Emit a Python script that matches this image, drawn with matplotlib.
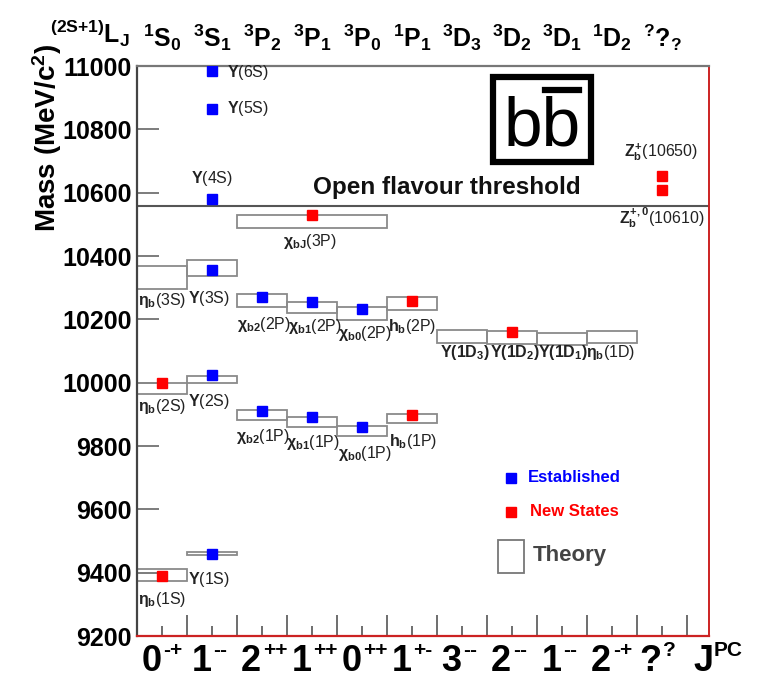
import matplotlib
matplotlib.use("Agg")
import matplotlib.pyplot as plt
from matplotlib.patches import Rectangle
from matplotlib.lines import Line2D
from matplotlib.transforms import blended_transform_factory, offset_copy

plt.rcParams['font.family'] = ['Liberation Sans', 'DejaVu Sans']
plt.rcParams['mathtext.fontset'] = 'custom'
plt.rcParams['mathtext.rm'] = 'Liberation Sans:bold'
plt.rcParams['mathtext.it'] = 'Liberation Sans:bold'
plt.rcParams['mathtext.bf'] = 'Liberation Sans:bold'
plt.rcParams['mathtext.sf'] = 'Liberation Sans:bold'

# ---------------- data ----------------
jpc_base = ['0', '1', '2', '1', '0', '1', '3', '2', '1', '2', '?']
jpc_sup = ['-+', '--', '++', '++', '++', '+-', '--', '--', '--', '-+', '?']
term_labels = ['$^{1}S_{0}$', '$^{3}S_{1}$', '$^{3}P_{2}$', '$^{3}P_{1}$', '$^{3}P_{0}$',
               '$^{1}P_{1}$', '$^{3}D_{3}$', '$^{3}D_{2}$', '$^{3}D_{1}$', '$^{1}D_{2}$',
               '$^{?}?_{?}$']

# theory boxes: column, span (columns), low mass, high mass
theory_col = [0, 1, 0, 1, 0, 1, 2, 3, 4, 5, 2, 3, 4, 5, 2, 6, 7, 8, 9]
theory_span = [1, 1, 1, 1, 1, 1, 1, 1, 1, 1, 1, 1, 1, 1, 3, 1, 1, 1, 1]
theory_low = [9374, 9456, 9963, 10000, 10297, 10337, 9882, 9861, 9832, 9872,
              10240, 10221, 10198, 10230, 10490, 10126, 10122, 10118, 10124]
theory_high = [9411, 9464, 10000, 10022, 10368, 10386, 9913, 9892, 9863, 9901,
               10279, 10256, 10238, 10270, 10530, 10166, 10163, 10156, 10163]

# established states (blue)
est_col = [1, 1, 1, 1, 1, 1, 2, 3, 4, 2, 3, 4]
est_mass = [9460, 10023, 10355, 10579, 10865, 10985, 9912, 9893, 9859, 10269, 10255, 10232]

# new states (red)
new_col = [0, 0, 5, 5, 3, 7, 10, 10]
new_mass = [9389, 9999, 9899, 10259, 10530, 10161, 10608, 10652]

threshold = 10558

# state labels: text, x (column units), y (MeV), horizontal alignment
state_labels = [
    (r'$\eta_{b}$(1S)', 0.02, 9314, 'left'),
    (r'$\Upsilon$(1S)', 1.02, 9377, 'left'),
    (r'$\eta_{b}$(2S)', 0.02, 9924, 'left'),
    (r'$\Upsilon$(2S)', 1.02, 9940, 'left'),
    (r'$\chi_{b2}$(1P)', 1.99, 9830, 'left'),
    (r'$\chi_{b1}$(1P)', 2.99, 9811, 'left'),
    (r'$\chi_{b0}$(1P)', 4.02, 9777, 'left'),
    (r'$h_{b}$(1P)', 5.04, 9814, 'left'),
    (r'$\eta_{b}$(3S)', 0.02, 10259, 'left'),
    (r'$\Upsilon$(3S)', 1.02, 10266, 'left'),
    (r'$\chi_{bJ}$(3P)', 3.46, 10445, 'center'),
    (r'$\chi_{b2}$(2P)', 2.0, 10185, 'left'),
    (r'$\chi_{b1}$(2P)', 3.01, 10177, 'left'),
    (r'$\chi_{b0}$(2P)', 4.03, 10154, 'left'),
    (r'$h_{b}$(2P)', 5.02, 10177, 'left'),
    (r'$\Upsilon(1D_{3})$', 6.05, 10094, 'left'),
    (r'$\Upsilon(1D_{2})$', 7.05, 10094, 'left'),
    (r'$\Upsilon(1D_{1})$', 8.01, 10094, 'left'),
    (r'$\eta_{b}$(1D)', 8.99, 10094, 'left'),
    (r'$\Upsilon$(4S)', 1.49, 10645, 'center'),
    (r'$\Upsilon$(5S)', 1.8, 10867, 'left'),
    (r'$\Upsilon$(6S)', 1.8, 10981, 'left'),
    (r'$Z_{b}^{+}$(10650)', 10.49, 10729, 'center'),
    (r'$Z_{b}^{{+},0}$(10610)', 10.49, 10522, 'center'),
]

legend_labels = ['Established', 'New States', 'Theory']

# ---------------- figure ----------------
W, H = 760, 681
fig = plt.figure(figsize=(W / 100, H / 100), dpi=100)
ax = fig.add_axes([137 / W, 1 - 636 / H, (709 - 137) / W, (636 - 66) / H])
ax.set_xlim(0, 11.44)
ax.set_ylim(9200, 11000)

def px(x, y):
    return (x / W, 1 - y / H)

tf = fig.transFigure

# theory boxes
for c, s, lo, hi in zip(theory_col, theory_span, theory_low, theory_high):
    ax.add_patch(Rectangle((c, lo), s, hi - lo, facecolor='none',
                           edgecolor='#8a8a8a', lw=1.3, zorder=2))

ax.axhline(threshold, color='#555555', lw=1.5, zorder=2)

ax.plot([c + 0.5 for c in est_col], est_mass, 's', color='#0000ff',
        ms=6.5, mec='#0000ff', zorder=4, ls='none')
ax.plot([c + 0.5 for c in new_col], new_mass, 's', color='#ff0000',
        ms=6.5, mec='#ff0000', zorder=4, ls='none')

for txt, x, y, ha in state_labels:
    ax.text(x, y, txt, ha=ha, va='center', fontsize=11.5, color='#222222', zorder=5)

# threshold text
ax.text(6.2, 10615, 'Open flavour threshold', ha='center', va='center',
        fontsize=17.5, fontweight='bold', color='#111111')

# axes styling
ax.set_yticks(range(9200, 11001, 200))
ax.set_yticklabels([str(v) for v in range(9200, 11001, 200)],
                   fontsize=18, fontweight='bold')
ax.tick_params(axis='y', direction='in', length=16, width=1.2, color='#666666', pad=4)
ax.set_xticks(range(1, 12))
ax.set_xticks([i + 0.5 for i in range(11)], minor=True)
ax.tick_params(axis='x', which='major', direction='in', length=15, width=1.2,
               color='#555555', labelbottom=False)
ax.tick_params(axis='x', which='minor', direction='in', length=7, width=1.2,
               color='#555555')
ax.spines['left'].set_color('#444444')
ax.spines['left'].set_linewidth(1.6)
ax.spines['top'].set_color('#777777')
ax.spines['top'].set_linewidth(1.6)
ax.spines['right'].set_color('#cc2222')
ax.spines['right'].set_linewidth(1.4)
ax.spines['bottom'].set_color('#cc2222')
ax.spines['bottom'].set_linewidth(1.6)

ax.set_ylabel('Mass (MeV/c$^{2}$)', fontsize=20, fontweight='bold')
ax.yaxis.set_label_coords(-0.128, 0.874)

bt = blended_transform_factory(ax.transData, ax.transAxes)
for i, (b, s) in enumerate(zip(jpc_base, jpc_sup)):
    tb = offset_copy(bt, fig=fig, x=-0.5, y=0, units='points')
    ax.text(i + 0.5, -0.045, b, transform=tb, ha='right', va='center',
            fontsize=26, fontweight='bold', color='black', clip_on=False)
    ts = offset_copy(bt, fig=fig, x=0.5, y=8, units='points')
    ax.text(i + 0.5, -0.045, s, transform=ts, ha='left', va='center',
            fontsize=15, fontweight='bold', color='black', clip_on=False)
tj = offset_copy(bt, fig=fig, x=0, y=0, units='points')
ax.text(11.12, -0.045, 'J', transform=tj, ha='left', va='center',
        fontsize=26, fontweight='bold', color='black', clip_on=False)
tj2 = offset_copy(bt, fig=fig, x=15, y=8, units='points')
ax.text(11.12, -0.045, 'PC', transform=tj2, ha='left', va='center',
        fontsize=15, fontweight='bold', color='black', clip_on=False)

for i, lab in enumerate(term_labels):
    ax.text(i + 0.5, 1.05, lab, transform=bt, ha='center', va='center',
            fontsize=18, color='black', clip_on=False)
ax.text(-0.95, 1.058, '$^{(2S{+}1)}L_{J}$', transform=bt, ha='center', va='center',
        fontsize=18, color='black', clip_on=False)

# b-bbar box
fig.add_artist(Rectangle(px(493, 162), 98 / W, 85 / H, transform=tf,
                         facecolor='none', edgecolor='black', lw=4.5))
fig.text(*px(542, 127), 'bb', ha='center', va='center', fontsize=50,
         color='black', fontfamily='Liberation Sans')
fig.add_artist(Line2D([545 / W, 579 / W], [1 - 90 / H, 1 - 90 / H], transform=tf,
                      color='black', lw=4.5))

# legend
fig.add_artist(Line2D([511 / W], [1 - 478 / H], transform=tf, marker='s',
                      color='#0000ff', ms=6.5, ls='none'))
fig.text(*px(528, 478), legend_labels[0], ha='left', va='center', fontsize=12,
         fontweight='bold', color='#0000ff')
fig.add_artist(Line2D([511 / W], [1 - 512 / H], transform=tf, marker='s',
                      color='#ff0000', ms=6.5, ls='none'))
fig.text(*px(530, 512), legend_labels[1], ha='left', va='center', fontsize=12,
         fontweight='bold', color='#ff0000')
fig.add_artist(Rectangle(px(498, 573), 26 / W, 33 / H, transform=tf,
                         facecolor='none', edgecolor='#777777', lw=1.3))
fig.text(*px(533, 555), legend_labels[2], ha='left', va='center', fontsize=16,
         fontweight='bold', color='#444444')

fig.savefig('out.png', dpi=100)
